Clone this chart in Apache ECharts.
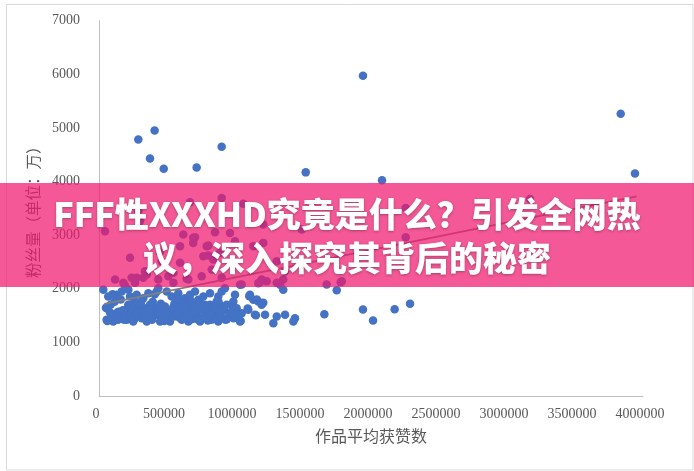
<!DOCTYPE html>
<html><head><meta charset="utf-8">
<script src="https://cdn.jsdelivr.net/npm/echarts/dist/echarts.min.js"></script>
<style>html,body{margin:0;padding:0;background:#fff}#c{width:694px;height:471px}</style>
</head><body><div id="c"></div>
<script>
// Lower dense cluster (blue)
const clusterX = [32000,51000,61000,142000,
68000,130000,167000,216000,228000,277000,326000,363000,424000,436000,498000,534000,583000,632000,669000,706000,730000,767000,816000,877000,902000,
56000,130000,204000,289000,338000,375000,412000,485000,522000,559000,608000,669000,706000,755000,816000,853000,902000,
56000,105000,154000,204000,252000,314000,351000,399000,449000,485000,522000,571000,608000,657000,706000,743000,792000,828000,877000,914000,
85000,95000,140000,175000,190000,240000,265000,300000,320000,345000,360000,390000,420000,440000,460000,470000,500000,510000,540000,555000,590000,600000,620000,640000,650000,680000,690000,720000,735000,760000,780000,800000,810000,840000,860000,880000,890000,920000,940000,960000,975000,990000,
779000,865000,926000,939000,963000,988000,1000000,1012000,1037000,1049000,1098000,1110000,1135000,1171000,1196000,1147000,1221000,1307000,1282000,1355000,1368000,1429000,1441000,1037000,1171000,1331000,
1160000,1105000,1093000,1042000,1154000,1208000,
80000,115000,160000,185000,215000,250000,285000,310000,335000,370000,395000,430000,455000,480000,515000,545000,575000,615000,645000,675000,700000,725000,750000,785000,820000,850000,895000,930000,975000,1010000,100000,260000,410000,580000,740000];
const clusterY = [1984,1646,1397,1571,
1856,1888,1950,1981,1856,1888,1825,1918,1950,2011,1950,1856,1918,1825,1888,1950,1795,1856,1918,1856,1950,
1639,1545,1609,1670,1639,1702,1577,1670,1577,1639,1702,1609,1702,1639,1702,1577,1670,
1422,1391,1452,1422,1391,1452,1391,1484,1391,1452,1391,1484,1422,1391,1452,1391,1484,1422,1391,1452,
1700,1480,1420,1600,1500,1530,1450,1580,1500,1470,1560,1420,1650,1500,1430,1600,1520,1420,1480,1720,1560,1450,1620,1500,1700,1430,1550,1520,1620,1450,1560,1410,1610,1500,1460,1750,1540,1600,1430,1520,1690,1450,
1702,1763,2011,1702,1545,1763,1888,1639,1391,1545,1609,1888,1795,1763,1702,1516,1516,1484,1359,1981,1516,1391,1452,2074,2104,2074,
1800,1862,1633,1397,1508,1739,
1560,1760,1800,1420,1700,1620,1560,1760,1560,1620,1760,1560,1720,1400,1560,1650,1560,1470,1560,1780,1600,1430,1720,1470,1540,1640,1470,1420,1560,1520,1900,1760,1900,1800,1720];
// Points in the 2000-3800 band
const bandX = [44000,620000,693000,693000,853000,792000,228000,338000,351000,277000,118000,179000,191000,436000,510000,596000,755000,829000,840000,657000,547000,461000,963000,1000000,767000,1135000,1208000,1307000,1355000,1307000,1196000,902000,669000,1061000,289000,301000,706000,1208000,1490000,2255000,2255000,3169000,1785000,596000,804000,890000,240000,326000,265000,547000,645000,902000,1049000,1184000,1331000,1368000,1674000,1777000,804000,448000,1233000];
const bandY = [3072,3011,2950,2856,3054,2793,2577,2327,2266,2205,2173,2111,2061,2173,2234,2484,2234,2359,2545,2173,2298,2513,3042,2886,2607,2793,2856,2513,2173,2111,2173,3694,3612,3588,3445,3259,2961,3197,3104,3508,2961,3675,2141,2793,2806,2670,2205,2205,2111,2111,2186,2205,2080,2123,2111,2327,2080,2123,2620,2681,2141];
// Sparse / outlying points
const outlierX = [289000,409000,375000,476000,718000,902000,1520000,1941000,3836000,3941000,2081000,1941000,2015000,2174000,2287000,1657000,1748000];
const outlierY = [4786,4953,4432,4240,4264,4650,4171,5972,5264,4152,4022,1614,1410,1620,1720,1527,1974];
// Trend line endpoints
const trendX = [39000, 3953000];
const trendY = [1720, 3724];
const titleLines = ['FFF性XXXHD究竟是什么？引发全网热', '议，深入探究其背后的秘密'];

const pts = [];
[[clusterX, clusterY],[bandX, bandY],[outlierX, outlierY]].forEach(([xs, ys]) => xs.forEach((x, i) => pts.push([x, ys[i]])));
const trend = trendX.map((x, i) => [x, trendY[i]]);

const chart = echarts.init(document.getElementById('c'));
const labelFont = {color: '#595959', fontSize: 14, fontFamily: 'Liberation Serif', formatter: v => String(v)};
chart.setOption({
  animation: false,
  grid: {left: 99, right: 51, top: 20.7, bottom: 75},
  xAxis: {
    type: 'value', min: 0, max: 4000000, interval: 500000,
    axisLine: {show: true, lineStyle: {color: '#bfbfbf', width: 1}},
    axisTick: {show: false}, splitLine: {show: false},
    axisLabel: Object.assign({margin: 11, padding: [0, 6, 0, 0]}, labelFont),
    name: '作品平均获赞数', nameLocation: 'middle', nameGap: 32,
    nameTextStyle: {color: '#595959', fontSize: 16, fontFamily: 'Noto Sans CJK SC'}
  },
  yAxis: {
    type: 'value', min: 0, max: 7000, interval: 1000,
    axisLine: {show: true, lineStyle: {color: '#bfbfbf', width: 1}},
    axisTick: {show: false}, splitLine: {show: false},
    axisLabel: Object.assign({margin: 19}, labelFont),
    name: '粉丝量（单位：万）', nameLocation: 'middle', nameGap: 53, nameRotate: 90,
    nameTextStyle: {color: '#595959', fontSize: 15.5, fontFamily: 'Noto Sans CJK SC'}
  },
  series: [
    {type: 'scatter', data: pts, symbolSize: 8.5, itemStyle: {color: '#4472C4', opacity: 1}, z: 3},
    {type: 'line', data: trend, showSymbol: false, lineStyle: {color: '#808080', width: 1.75}, z: 4}
  ],
  graphic: [
    {type: 'rect', left: 4, top: 2, shape: {width: 686.5, height: 465.5}, style: {fill: 'none', stroke: '#d9d9d9', lineWidth: 1}, z: 1, silent: true},
    {type: 'rect', left: 0, top: 183, shape: {width: 694, height: 104}, style: {fill: 'rgba(240,23,110,0.72)'}, z: 100, silent: true},
    {type: 'text', x: 347, y: 214, z: 101, silent: true,
      style: {text: titleLines[0], fill: '#fff', fontSize: 34, fontWeight: 900, fontFamily: 'Noto Sans CJK SC',
        textAlign: 'center', textVerticalAlign: 'middle', align: 'center', verticalAlign: 'middle',
        textShadowColor: 'rgba(0,0,0,0.3)', textShadowBlur: 3, textShadowOffsetY: 1}},
    {type: 'text', x: 347, y: 258, z: 101, silent: true,
      style: {text: titleLines[1], fill: '#fff', fontSize: 34, fontWeight: 900, fontFamily: 'Noto Sans CJK SC',
        textAlign: 'center', textVerticalAlign: 'middle', align: 'center', verticalAlign: 'middle',
        textShadowColor: 'rgba(0,0,0,0.3)', textShadowBlur: 3, textShadowOffsetY: 1}}
  ]
});
</script></body></html>
